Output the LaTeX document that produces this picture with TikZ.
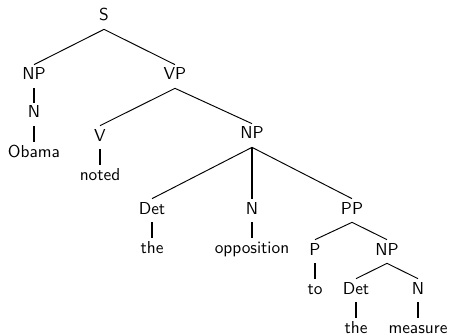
\documentclass[tikz,border=0pt]{standalone}
\usepackage{fontspec}
\begin{document}
\begin{tikzpicture}[x=0.578pt, y=-0.578pt,
  lbl/.style={anchor=base, inner xsep=0pt, inner ysep=2.31pt, text height=6.36pt, text depth=2.31pt, font=\sffamily},
  branch/.style={line width=0.55pt},
  unary/.style={line width=1.15pt}]
\useasboundingbox (0,0) rectangle (449,334);
\node[lbl] (S) at (104,21) {S};
\node[lbl] (NP) at (34,80) {NP};
\node[lbl] (VP) at (175,80) {VP};
\node[lbl] (N) at (34,118) {N};
\node[lbl] (Obama) at (34,157) {Obama};
\node[lbl] (V) at (100,141) {V};
\node[lbl] (noted) at (100,180) {noted};
\node[lbl] (NPb) at (252,139) {NP};
\node[lbl] (Det) at (152,214) {Det};
\node[lbl] (theA) at (152,253) {the};
\node[lbl] (Nb) at (252,214) {N};
\node[lbl] (opp) at (252,253) {opposition};
\node[lbl] (PP) at (352,214) {PP};
\node[lbl] (P) at (315,255) {P};
\node[lbl] (NPc) at (387,255) {NP};
\node[lbl] (to) at (315,294) {to};
\node[lbl] (Detb) at (356,294) {Det};
\node[lbl] (Nc) at (418,294) {N};
\node[lbl] (theB) at (356,333) {the};
\node[lbl] (measure) at (418,333) {measure};
\draw[branch] (S.south) -- (NP.north);
\draw[branch] (S.south) -- (VP.north);
\draw[unary] (NP.south) -- (N.north);
\draw[unary] (N.south) -- (Obama.north);
\draw[branch] (VP.south) -- (V.north);
\draw[branch] (VP.south) -- (NPb.north);
\draw[unary] (V.south) -- (noted.north);
\draw[branch] (NPb.south) -- (Det.north);
\draw[unary] (NPb.south) -- (Nb.north);
\draw[branch] (NPb.south) -- (PP.north);
\draw[unary] (Det.south) -- (theA.north);
\draw[unary] (Nb.south) -- (opp.north);
\draw[branch] (PP.south) -- (P.north);
\draw[branch] (PP.south) -- (NPc.north);
\draw[unary] (P.south) -- (to.north);
\draw[branch] (NPc.south) -- (Detb.north);
\draw[branch] (NPc.south) -- (Nc.north);
\draw[unary] (Detb.south) -- (theB.north);
\draw[unary] (Nc.south) -- (measure.north);
\end{tikzpicture}
\end{document}
